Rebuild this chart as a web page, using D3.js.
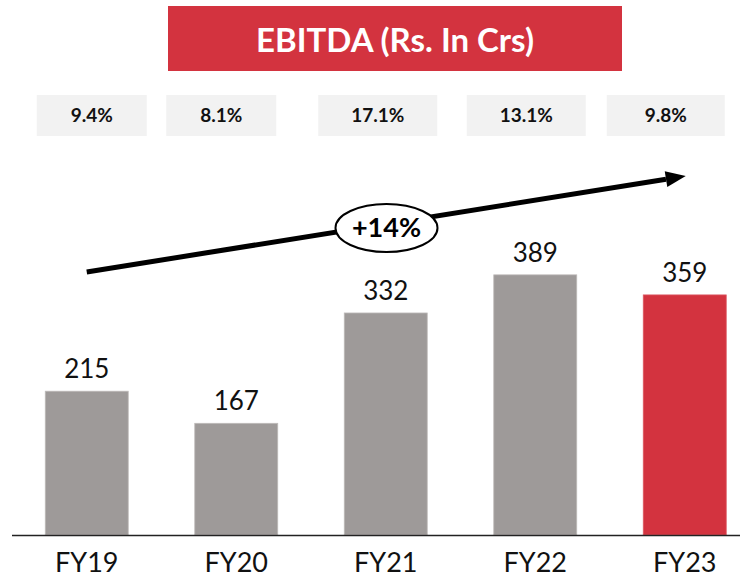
<!DOCTYPE html>
<html>
<head>
<meta charset="utf-8">
<script src="https://cdn.jsdelivr.net/npm/d3@7"></script>
<style>
  html, body { margin: 0; padding: 0; background: #fff; }
  svg { display: block; font-family: Lato, 'Open Sans', sans-serif; }
</style>
</head>
<body>
<svg id="chart" width="743" height="578"></svg>
<script>
// data
const years = ['FY19', 'FY20', 'FY21', 'FY22', 'FY23'];
const ebitda = [215, 167, 332, 389, 359];
const marginPct = ['9.4%', '8.1%', '17.1%', '13.1%', '9.8%'];
const cagrLabel = '+14%';
const titleText = 'EBITDA (Rs. In Crs)';

// box nudges (the margin boxes are hand placed, not centred on bars)
const boxDx = [5, -15, -8, -9, -19];
const boxW = [110, 110, 119, 119, 118];

const svg = d3.select('#chart');
const width = +svg.attr('width'),
  height = +svg.attr('height');

const gray = '#9e9a99';
const red = '#d3333f';

const x = d3.scaleBand()
  .domain(years)
  .range([12, 759.5])
  .paddingInner(0.445)
  .paddingOuter(0.2225);

const y = d3.scaleLinear()
  .domain([0, 800])
  .range([535, 0]);

// title banner
svg.append('rect')
  .attr('x', 168).attr('y', 6)
  .attr('width', 454).attr('height', 65)
  .attr('fill', red);
svg.append('text')
  .attr('x', 395).attr('y', 52)
  .attr('text-anchor', 'middle')
  .attr('fill', '#fff')
  .attr('font-weight', 700)
  .attr('font-size', 33)
  .text(titleText);

// margin boxes
const mg = svg.append('g');
years.forEach((yr, i) => {
  const cx = x(yr) + x.bandwidth() / 2 + boxDx[i];
  mg.append('rect')
    .attr('x', cx - boxW[i] / 2).attr('y', 95)
    .attr('width', boxW[i]).attr('height', 41)
    .attr('fill', '#f2f2f2');
  mg.append('text')
    .attr('x', cx).attr('y', 122)
    .attr('text-anchor', 'middle')
    .attr('font-weight', 700)
    .attr('font-size', 19)
    .attr('fill', '#111')
    .text(marginPct[i]);
});

// bars
svg.append('g')
  .selectAll('rect')
  .data(ebitda)
  .join('rect')
  .attr('x', (d, i) => x(years[i]))
  .attr('y', d => y(d))
  .attr('width', x.bandwidth())
  .attr('height', d => y(0) - y(d))
  .attr('fill', (d, i) => i === years.length - 1 ? red : gray)
  .attr('stroke', (d, i) => i === years.length - 1 ? '#dc5a63' : '#bdbab9')
  .attr('stroke-width', 0.8);

// value labels
svg.append('g')
  .selectAll('text')
  .data(ebitda)
  .join('text')
  .attr('x', (d, i) => x(years[i]) + x.bandwidth() / 2)
  .attr('y', d => y(d) - 13)
  .attr('text-anchor', 'middle')
  .attr('font-size', 26)
  .attr('fill', '#111')
  .text(d => d);

// baseline
svg.append('line')
  .attr('x1', 12).attr('x2', 740)
  .attr('y1', y(0) + 0.5).attr('y2', y(0) + 0.5)
  .attr('stroke', '#222')
  .attr('stroke-width', 1.5);

// category labels
svg.append('g')
  .selectAll('text')
  .data(years)
  .join('text')
  .attr('x', d => x(d) + x.bandwidth() / 2)
  .attr('y', 572)
  .attr('text-anchor', 'middle')
  .attr('font-size', 27)
  .attr('fill', '#111')
  .text(d => d);

// growth arrow, from FY19 centre to FY23 centre
const x0 = x(years[0]) + x.bandwidth() / 2,
  y0 = 272,
  x1 = x(years[years.length - 1]) + x.bandwidth() / 2 + 1,
  y1 = 176;
const ang = Math.atan2(y1 - y0, x1 - x0);
const headLen = 20, headHalf = 8;
const bx = x1 - headLen * Math.cos(ang),
  by = y1 - headLen * Math.sin(ang);
svg.append('line')
  .attr('x1', x0).attr('y1', y0)
  .attr('x2', bx).attr('y2', by)
  .attr('stroke', '#000')
  .attr('stroke-width', 5);
svg.append('path')
  .attr('d', d3.line()([
    [x1, y1],
    [bx + headHalf * Math.sin(ang), by - headHalf * Math.cos(ang)],
    [bx - headHalf * Math.sin(ang), by + headHalf * Math.cos(ang)]
  ]) + 'Z')
  .attr('fill', '#000');

// CAGR bubble
const ex = 386.5, ey = 228;
svg.append('ellipse')
  .attr('cx', ex).attr('cy', ey)
  .attr('rx', 51).attr('ry', 24)
  .attr('fill', '#fff')
  .attr('stroke', '#000')
  .attr('stroke-width', 2);
svg.append('text')
  .attr('x', ex).attr('y', ey + 9)
  .attr('text-anchor', 'middle')
  .attr('font-weight', 700)
  .attr('font-size', 27)
  .attr('fill', '#000')
  .text(cagrLabel);
</script>
</body>
</html>
